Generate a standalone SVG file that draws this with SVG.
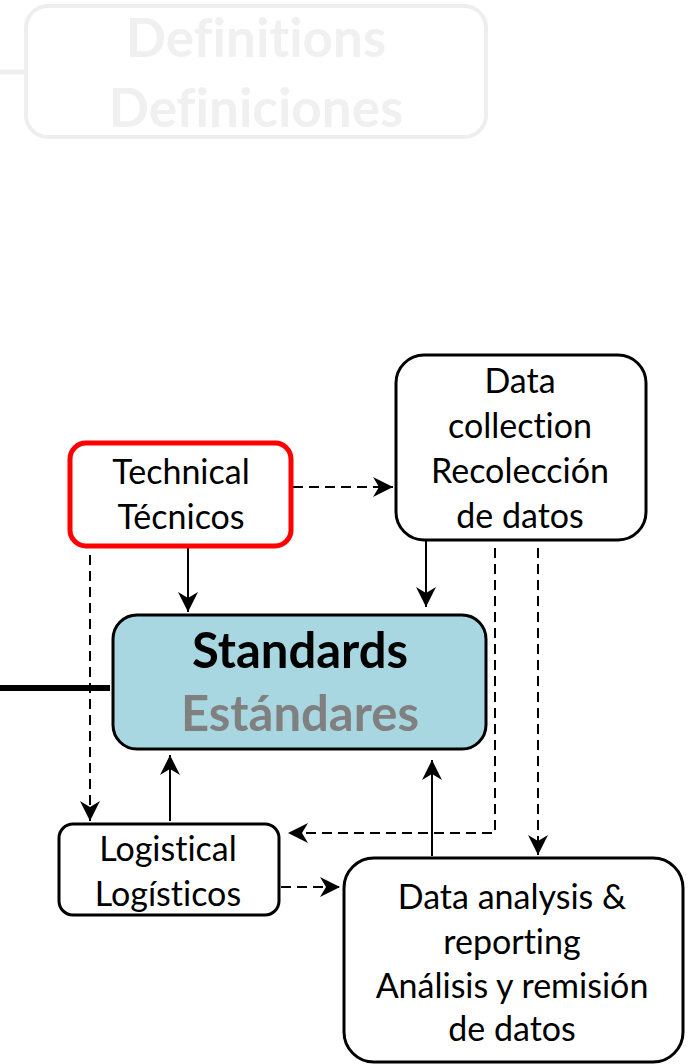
<svg xmlns="http://www.w3.org/2000/svg" width="697" height="1064" viewBox="0 0 697 1064">
<style>
.t{font-family:Lato,"Open Sans","Liberation Sans",sans-serif;font-size:34px;fill:#000;text-anchor:middle;font-variant-ligatures:none}
.b{font-family:Lato,"Open Sans","Liberation Sans",sans-serif;font-weight:bold;text-anchor:middle;font-variant-ligatures:none}
.box{fill:#fff;stroke:#000;stroke-width:3}
.s{fill:none;stroke:#000;stroke-width:2}
.d{fill:none;stroke:#000;stroke-width:2;stroke-dasharray:10,6}
</style>
<defs>
<marker id="ah" viewBox="0 0 22 22" refX="20" refY="11" markerWidth="22" markerHeight="22" markerUnits="userSpaceOnUse" orient="auto">
<path d="M0,1 L20,11 L0,21 L6,11 Z" fill="#000"/>
</marker>
</defs>
<rect width="697" height="1064" fill="#fff"/>
<g id="connectors">
<line x1="0" y1="72" x2="25" y2="72" stroke="#eeeeee" stroke-width="5"/>
<line x1="0" y1="688" x2="110" y2="688" stroke="#000" stroke-width="6"/>
<line class="s" x1="188" y1="546" x2="188" y2="612" marker-end="url(#ah)"/>
<line class="d" x1="293" y1="487" x2="393" y2="487" marker-end="url(#ah)"/>
<line class="s" x1="426" y1="541" x2="426" y2="607" marker-end="url(#ah)"/>
<line class="d" x1="90" y1="555" x2="90" y2="821" marker-end="url(#ah)"/>
<polyline class="d" points="495,548 495,833 288,833" marker-end="url(#ah)"/>
<line class="d" x1="538" y1="548" x2="538" y2="855" marker-end="url(#ah)"/>
<line class="s" x1="170" y1="821" x2="170" y2="755" marker-end="url(#ah)"/>
<line class="s" x1="432" y1="856" x2="432" y2="760" marker-end="url(#ah)"/>
<line class="d" x1="281" y1="887" x2="340" y2="887" marker-end="url(#ah)"/>
</g>
<g id="definitions">
<rect x="26" y="6" width="460" height="131" rx="22" fill="#fff" stroke="#eeeeee" stroke-width="4"/>
<text class="b" x="256" y="57" font-size="53" fill="#f0f0f0">Definitions</text>
<text class="b" x="256" y="127" font-size="53" fill="#f0f0f0">Definiciones</text>
</g>
<g id="technical">
<rect x="70" y="443" width="221" height="103" rx="16" fill="#fff" stroke="#ff0000" stroke-width="5"/>
<text class="t" x="181" y="484">Technical</text>
<text class="t" x="181" y="529">Técnicos</text>
</g>
<g id="datacollection">
<rect class="box" x="396" y="355" width="250" height="185" rx="28"/>
<text class="t" x="520" y="393">Data</text>
<text class="t" x="520" y="438">collection</text>
<text class="t" x="520" y="483">Recolección</text>
<text class="t" x="520" y="528">de datos</text>
</g>
<g id="standards">
<rect x="113" y="615" width="373" height="134" rx="24" fill="#a8d7e2" stroke="#000" stroke-width="3"/>
<text class="b" x="300" y="668" font-size="49" fill="#000">Standards</text>
<text class="b" x="300" y="731" font-size="49" fill="#808080">Estándares</text>
</g>
<g id="logistical">
<rect class="box" x="59" y="824" width="220" height="91" rx="14"/>
<text class="t" x="168" y="861">Logistical</text>
<text class="t" x="168" y="906">Logísticos</text>
</g>
<g id="dataanalysis">
<rect class="box" x="344" y="858" width="339" height="204" rx="30"/>
<text class="t" x="512" y="909">Data analysis &amp;</text>
<text class="t" x="512" y="954">reporting</text>
<text class="t" x="512" y="998">Análisis y remisión</text>
<text class="t" x="512" y="1041">de datos</text>
</g>
</svg>
